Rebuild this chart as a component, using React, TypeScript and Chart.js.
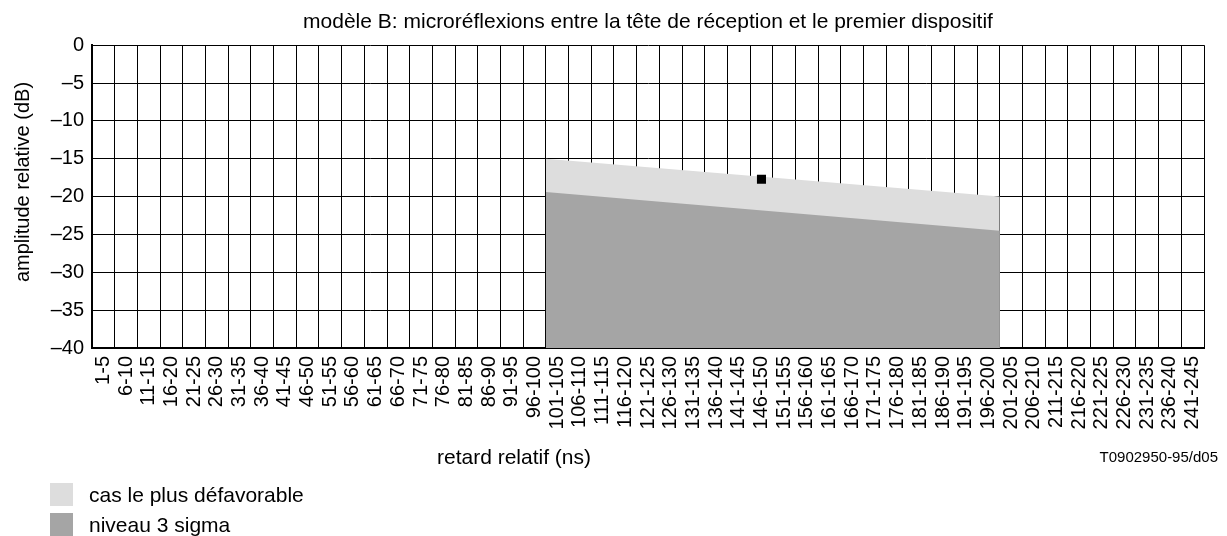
import React, { useEffect, useRef } from 'react';
import { Chart, registerables } from 'chart.js';

Chart.register(...registerables);

// ---- data ----
const categories = [
  '1-5', '6-10', '11-15', '16-20', '21-25', '26-30', '31-35', '36-40', '41-45', '46-50',
  '51-55', '56-60', '61-65', '66-70', '71-75', '76-80', '81-85', '86-90', '91-95', '96-100',
  '101-105', '106-110', '111-115', '116-120', '121-125', '126-130', '131-135', '136-140', '141-145', '146-150',
  '151-155', '156-160', '161-165', '166-170', '171-175', '176-180', '181-185', '186-190', '191-195', '196-200',
  '201-205', '206-210', '211-215', '216-220', '221-225', '226-230', '231-235', '236-240', '241-245',
];

// delay in ns (category boundaries), level in dB
const worstDelay = [100, 200];
const worstLevel = [-15, -20];
const sigmaDelay = [100, 200];
const sigmaLevel = [-19.4, -24.5];
const pointDelay = [147.5];
const pointLevel = [-17.7];

const yMin = -40;
const yMax = 0;
const yStep = 5;
const delayMax = 245;

const titleText = 'modèle B: microréflexions entre la tête de réception et le premier dispositif';
const xTitleText = 'retard relatif (ns)';
const yTitleText = 'amplitude relative (dB)';
const codeText = 'T0902950-95/d05';
const worstLabel = 'cas le plus défavorable';
const sigmaLabel = 'niveau 3 sigma';

const FONT = "'Liberation Sans', Arial, Helvetica, sans-serif";
const LIGHT = '#dddddd';
const DARK = '#a5a5a5';

const textPlugin = {
  id: 'extraTexts',
  afterDraw(chart: any) {
    const ctx = chart.ctx;
    ctx.save();
    ctx.fillStyle = '#000';
    ctx.textBaseline = 'middle';

    // x axis title
    ctx.font = `21px ${FONT}`;
    ctx.textAlign = 'center';
    ctx.fillText(xTitleText, 506, 450);

    // code
    ctx.font = `15px ${FONT}`;
    ctx.textAlign = 'right';
    ctx.fillText(codeText, 1210, 450);

    // y axis title
    ctx.font = `20px ${FONT}`;
    ctx.save();
    ctx.translate(15, 174);
    ctx.rotate(-Math.PI / 2);
    ctx.textAlign = 'center';
    ctx.fillText(yTitleText, 0, 0);
    ctx.restore();

    // legend
    const items = chart.data.datasets.filter((d: any) => d.legendRow !== undefined)
      .sort((a: any, b: any) => a.legendRow - b.legendRow);
    items.forEach((d: any, i: number) => {
      const top = 475 + i * 30;
      ctx.fillStyle = d.backgroundColor;
      ctx.fillRect(42, top, 23, 23);
      ctx.fillStyle = '#000';
      ctx.font = `21px ${FONT}`;
      ctx.textAlign = 'left';
      ctx.fillText(d.label, 81, top + 13);
    });
    ctx.restore();
  },
};

export default function App() {
  const ref = useRef<HTMLCanvasElement | null>(null);

  useEffect(() => {
    document.documentElement.style.overflow = 'hidden';
    const canvas = ref.current;
    if (!canvas) return;
    const font = { family: FONT, size: 20 };
    const chart = new Chart(canvas, {
      type: 'line',
      data: {
        labels: categories,
        datasets: [
          {
            label: 'mesure',
            data: pointDelay.map((x, i) => ({ x, y: pointLevel[i] })),
            xAxisID: 'xd',
            showLine: false,
            pointStyle: 'rect',
            pointRadius: 6.4,
            pointBackgroundColor: '#000',
            pointBorderWidth: 0,
            borderColor: 'transparent',
            backgroundColor: '#000',
          },
          {
            label: sigmaLabel,
            legendRow: 1,
            data: sigmaDelay.map((x, i) => ({ x, y: sigmaLevel[i] })),
            xAxisID: 'xd',
            fill: 'start',
            backgroundColor: DARK,
            borderColor: 'transparent',
            borderWidth: 0,
            pointRadius: 0,
          } as any,
          {
            label: worstLabel,
            legendRow: 0,
            data: worstDelay.map((x, i) => ({ x, y: worstLevel[i] })),
            xAxisID: 'xd',
            fill: 'start',
            backgroundColor: LIGHT,
            borderColor: 'transparent',
            borderWidth: 0,
            pointRadius: 0,
          } as any,
        ],
      },
      options: {
        animation: false,
        responsive: false,
        devicePixelRatio: 1,
        events: [],
        layout: { padding: { left: 0, right: 15, top: 0, bottom: 0 } },
        plugins: {
          legend: { display: false },
          tooltip: { enabled: false },
          title: {
            display: true,
            text: titleText,
            fullSize: false,
            color: '#000',
            font: { family: FONT, size: 21, weight: 'normal' as any, lineHeight: 1.2 },
            padding: { top: 2, bottom: 10 },
          },
        },
        scales: {
          x: {
            type: 'category',
            labels: categories,
            offset: true,
            grid: { offset: true, color: '#000', lineWidth: 1, drawTicks: false },
            border: { color: '#000', width: 2 },
            ticks: {
              autoSkip: false,
              minRotation: 90,
              maxRotation: 90,
              padding: 8,
              color: '#000',
              font,
            },
            afterFit(scale: any) {
              scale.height = 188;
              scale.paddingLeft = 0;
              scale.paddingRight = 0;
            },
          },
          xd: {
            type: 'linear',
            display: false,
            min: 0,
            max: delayMax,
          },
          y: {
            type: 'linear',
            min: yMin,
            max: yMax,
            grid: { color: '#000', lineWidth: 1, drawTicks: false },
            border: { color: '#000', width: 2 },
            ticks: {
              stepSize: yStep,
              padding: 8,
              color: '#000',
              font,
              callback: (v: any) => (Number(v) === 0 ? '0' : '\u2013' + Math.abs(Number(v))),
            },
            afterFit(scale: any) {
              scale.width = 84;
              scale.paddingTop = 0;
              scale.paddingBottom = 0;
            },
          },
        },
      } as any,
      plugins: [textPlugin],
    });
    return () => chart.destroy();
  }, []);

  return (
    <div style={{ width: 1211, height: 528 }}>
      <canvas ref={ref} width={1211} height={528} style={{ display: 'block' }} />
    </div>
  );
}
